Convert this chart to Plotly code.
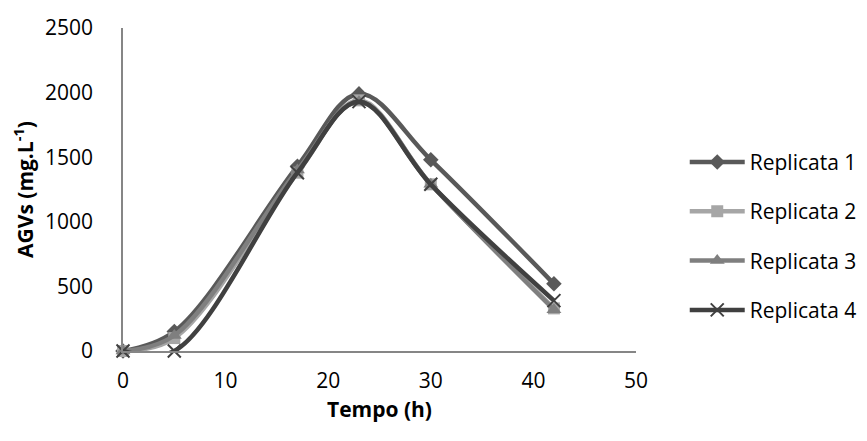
import plotly.graph_objects as go

tempo = [0, 5, 17, 23, 30, 42]
rep1 = [0, 150, 1430, 1990, 1480, 520]
rep2 = [0, 100, 1380, 1940, 1290, 330]
rep3 = [0, 120, 1400, 1930, 1290, 320]
rep4 = [0, 0, 1380, 1930, 1290, 390]
names = ["Replicata 1", "Replicata 2", "Replicata 3", "Replicata 4"]
series = [rep1, rep2, rep3, rep4]
colors = ["#595959", "#A6A6A6", "#7F7F7F", "#404040"]
symbols = ["diamond", "square", "triangle-up", "x-thin"]
msizes = [12, 12, 13, 13]

fig = go.Figure()
for i, (n, s) in enumerate(zip(names, series)):
    sym = symbols[i]
    marker = dict(symbol=sym, size=msizes[i], color=colors[i])
    if sym == "x-thin":
        marker["line"] = dict(color=colors[i], width=2)
    fig.add_trace(go.Scatter(
        x=tempo, y=s, name=n, mode="lines+markers",
        line=dict(color=colors[i], width=4.5, shape="spline", smoothing=1.0),
        marker=marker, cliponaxis=False, legendgroup=n,
    ))

font = "Open Sans"
fs = 21
fig.update_layout(
    width=867, height=441,
    margin=dict(l=123, r=231, t=28, b=90, autoexpand=False),
    paper_bgcolor="white", plot_bgcolor="white",
    font=dict(family=font, size=fs, color="#000000"),
    showlegend=True,
    legend=dict(x=1.095, xanchor="left", y=0.355, yanchor="middle",
                font=dict(size=fs), tracegroupgap=19, itemwidth=55),
    xaxis=dict(range=[0, 50], tickvals=[0, 10, 20, 30, 40, 50],
               showgrid=False, zeroline=False, showline=True,
               linecolor="#868686", linewidth=1.5, ticks="",
               ticklabelstandoff=10,
               title=dict(text="<b>Tempo (h)</b>", standoff=9, font=dict(size=fs))),
    yaxis=dict(range=[0, 2500], tickvals=[0, 500, 1000, 1500, 2000, 2500],
               showgrid=False, zeroline=False, showline=True,
               linecolor="#868686", linewidth=1.5, ticks="",
               ticklabelstandoff=24,
               title=dict(text="<b>AGVs (mg.L<sup>-1</sup>)</b>", standoff=6, font=dict(size=fs))),
)
fig.write_html("out.html")
